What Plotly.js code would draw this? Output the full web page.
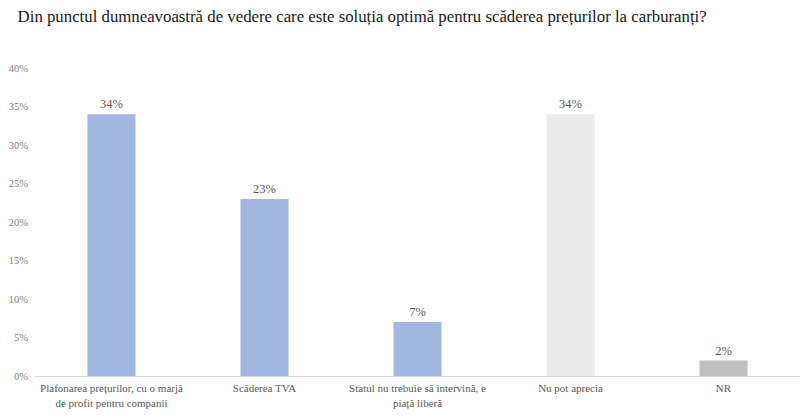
<!DOCTYPE html>
<html>
<head>
<meta charset="utf-8">
<script src="https://cdn.plot.ly/plotly-3.0.1.min.js"></script>
<style>
  body { margin: 0; background: #fff; }
  #chart { width: 800px; height: 419px; }
</style>
</head>
<body>
<div id="chart"></div>
<script>
// answer categories (x axis)
var categories = [
    "Plafonarea prețurilor, cu o marjă<br>de profit pentru companii",
    "Scăderea TVA",
    "Statul nu trebuie să intervină, e<br>piață liberă",
    "Nu pot aprecia",
    "NR"
];
// share of respondents, in %
var values = [34, 23, 7, 34, 2];
var barColors = ["#A3B8E1", "#A3B8E1", "#A3B8E1", "#EBEBEB", "#BFBFBF"];
var yTicks = [0, 5, 10, 15, 20, 25, 30, 35, 40];

var trace = {
    type: 'bar',
    x: categories,
    y: values,
    marker: {color: barColors},
    text: values.map(v => v + '%'),
    textposition: 'outside',
    textfont: {family: 'Liberation Serif', size: 12.5, color: '#595959'},
    cliponaxis: false,
    hoverinfo: 'x+y'
};

var layout = {
    width: 800,
    height: 419,
    margin: {l: 35, r: 0, t: 68, b: 43},
    paper_bgcolor: '#fff',
    plot_bgcolor: '#fff',
    showlegend: false,
    bargap: 0.686,
    title: {
        text: 'Din punctul dumneavoastră de vedere care este soluția optimă pentru scăderea prețurilor la carburanți?',
        font: {family: 'Liberation Serif', size: 16.8, color: '#1a1a1a'},
        x: 0.022, xanchor: 'left',
        y: 0.975, yanchor: 'top'
    },
    xaxis: {
        showline: true,
        linecolor: '#D9D9D9',
        linewidth: 1,
        showgrid: false,
        ticks: '',
        ticklabelstandoff: 2,
        tickfont: {family: 'Liberation Serif', size: 11, color: '#595959'}
    },
    yaxis: {
        range: [0, 40],
        tickvals: yTicks,
        ticktext: yTicks.map(v => v + '%'),
        showgrid: false,
        zeroline: false,
        showline: false,
        ticks: '',
        ticklabelstandoff: 6,
        tickfont: {family: 'Liberation Serif', size: 10.5, color: '#7f7f7f'}
    }
};

Plotly.newPlot('chart', [trace], layout, {displayModeBar: false});
</script>
</body>
</html>
